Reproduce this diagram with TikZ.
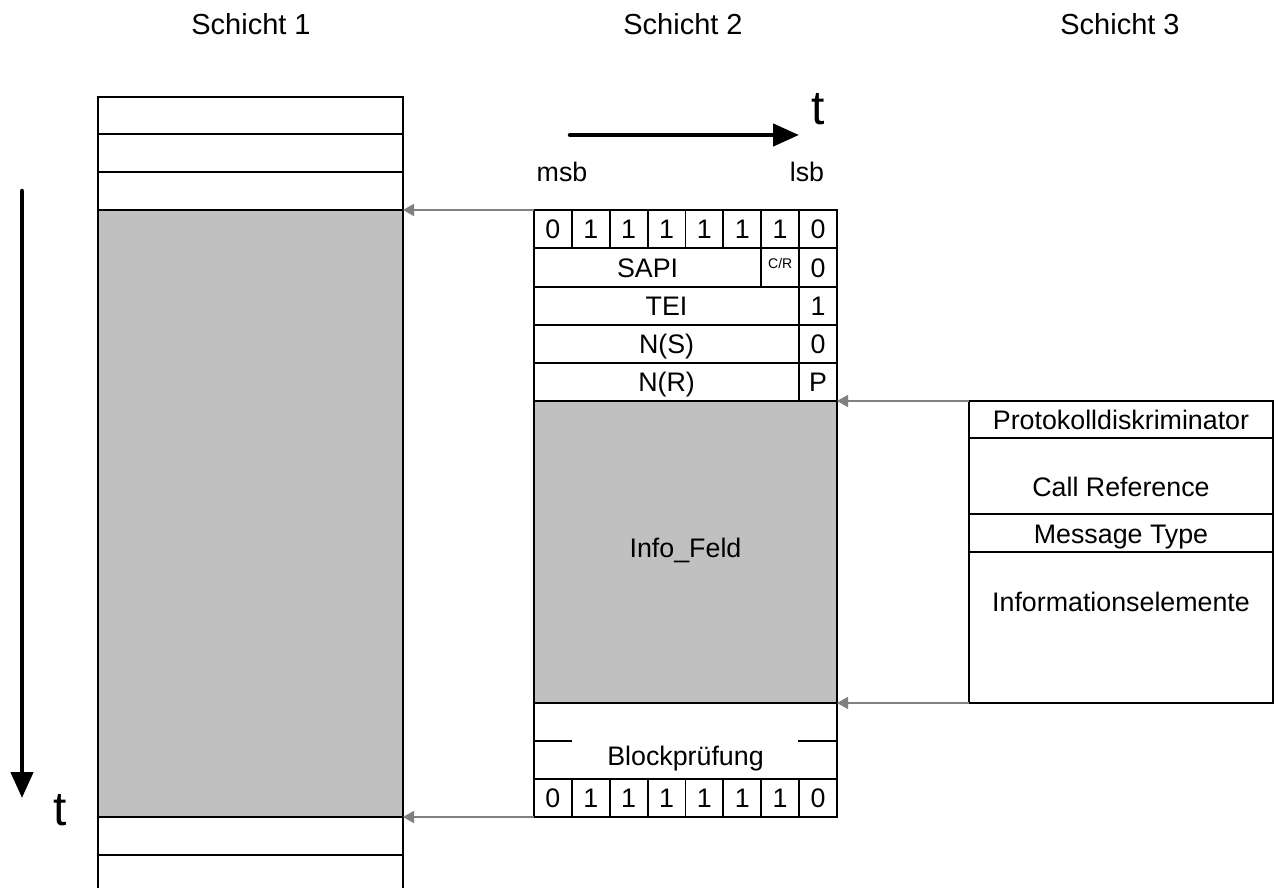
\documentclass[tikz,border=0pt]{standalone}
\usepackage{fontspec}
\setmainfont{Liberation Sans}
\usetikzlibrary{arrows.meta}
\definecolor{graybg}{RGB}{192,192,192}
\definecolor{arrowgray}{RGB}{128,128,128}
\tikzset{
  cellbox/.style={draw=black, line width=1.8pt, inner sep=0pt, outer sep=0pt, anchor=north west,
    font=\fontsize{26.8}{30}\selectfont, text height=19.2pt, text depth=0pt},
  grayarea/.style={cellbox, fill=graybg},
  txt/.style={inner sep=0pt, outer sep=0pt, font=\fontsize{26.8}{30}\selectfont, text height=19.2pt, text depth=0pt},
  headtxt/.style={inner sep=0pt, outer sep=0pt, font=\fontsize{29}{34}\selectfont, text height=20.8pt, text depth=0pt},
  bigt/.style={inner sep=0pt, outer sep=0pt, font=\fontsize{48}{56}\selectfont, anchor=base},
  smalltxt/.style={inner sep=0pt, outer sep=0pt, font=\fontsize{26.8}{30}\selectfont, anchor=base},
  feed/.style={draw=arrowgray, line width=1.5pt, -{Triangle[length=11pt,width=12pt]}},
  timearrow/.style={line width=4.5pt, line cap=round, -{Triangle[length=26pt,width=22pt]}},
  segline/.style={line width=1.8pt}
}
\begin{document}
\begin{tikzpicture}[x=1pt,y=-1pt]
\clip (0,0) rectangle (1278,888);
\useasboundingbox (0,0) rectangle (1278,888);

% headings
\node[headtxt] (h1) at (251,24) {Schicht 1};
\node[headtxt] (h2) at (683,24) {Schicht 2};
\node[headtxt] (h3) at (1120,24) {Schicht 3};

% ---------- Schicht 1 column ----------
\node[cellbox, minimum width=305pt, minimum height=37pt] (l1) at (98,97) {};
\node[cellbox, minimum width=305pt, minimum height=38pt] (l2) at (98,134) {};
\node[cellbox, minimum width=305pt, minimum height=38pt] (l3) at (98,172) {};
\node[grayarea, minimum width=305pt, minimum height=607pt] (lg) at (98,210) {};
\node[cellbox, minimum width=305pt, minimum height=38pt] (l5) at (98,817) {};
\node[cellbox, minimum width=305pt, minimum height=60pt] (l6) at (98,855) {};

% ---------- Schicht 2 frame ----------
\def\bw{37.875}
% top flag row
\foreach \v [count=\i from 0] in {0,1,1,1,1,1,1,0}{
  \node[cellbox, minimum width=\bw pt, minimum height=38pt] (b\i) at ({534+\i*\bw},210) {\v};
}
% SAPI row
\node[cellbox, minimum width=227.25pt, minimum height=39pt] (sapi) at (534,248) {SAPI};
\node[cellbox, minimum width=\bw pt, minimum height=39pt] (cr) at (761.25,248) {};
\node[inner sep=0pt, font=\fontsize{14}{16}\selectfont, anchor=base] (crt) at (780.2,268) {C/R};
\node[cellbox, minimum width=\bw pt, minimum height=39pt] (r2b) at (799.125,248) {0};
% TEI row
\node[cellbox, minimum width=265.125pt, minimum height=38pt] (tei) at (534,287) {TEI};
\node[cellbox, minimum width=\bw pt, minimum height=38pt] (r3b) at (799.125,287) {1};
% N(S) row
\node[cellbox, minimum width=265.125pt, minimum height=38pt] (ns) at (534,325) {N(S)};
\node[cellbox, minimum width=\bw pt, minimum height=38pt] (r4b) at (799.125,325) {0};
% N(R) row
\node[cellbox, minimum width=265.125pt, minimum height=38pt] (nr) at (534,363) {N(R)};
\node[cellbox, minimum width=\bw pt, minimum height=38pt] (r5b) at (799.125,363) {P};
% Info field
\node[grayarea, minimum width=303pt, minimum height=302pt] (info) at (534,401) {};
\node[txt] (infot) at (685.5,548) {Info\_Feld};
% Blockpruefung
\node[cellbox, minimum width=303pt, minimum height=76pt] (block) at (534,703) {};
\coordinate (dl1) at (534,741);
\coordinate (dl2) at (572,741);
\coordinate (dr1) at (798,741);
\coordinate (dr2) at (837,741);
\draw[segline] (dl1) -- (dl2);
\draw[segline] (dr1) -- (dr2);
\node[txt] (blockt) at (685.5,755.5) {Blockprüfung};
% bottom flag row
\foreach \v [count=\i from 0] in {0,1,1,1,1,1,1,0}{
  \node[cellbox, minimum width=\bw pt, minimum height=38pt] (c\i) at ({534+\i*\bw},779) {\v};
}

% msb / lsb and time arrow
\node[smalltxt] (msb) at (562,182) {msb};
\node[smalltxt] (lsb) at (807,182) {lsb};
\coordinate (ta1) at (570,135);
\coordinate (ta2) at (799,135);
\draw[timearrow] (ta1) -- (ta2);
\node[bigt] (tt) at (818,125) {t};

% left time arrow
\coordinate (la1) at (22,191);
\coordinate (la2) at (22,798);
\draw[timearrow] (la1) -- (la2);
\node[bigt] (lt) at (60,825) {t};

% ---------- Schicht 3 box ----------
\node[cellbox, minimum width=304pt, minimum height=37pt] (pd) at (969,401) {};
\node[cellbox, minimum width=304pt, minimum height=76pt] (cref) at (969,438) {};
\node[cellbox, minimum width=304pt, minimum height=38pt] (mt) at (969,514) {};
\node[cellbox, minimum width=304pt, minimum height=151pt] (ie) at (969,552) {};
\node[txt] (pdt) at (1121,419.5) {Protokolldiskriminator};
\node[txt] (creft) at (1121,487) {Call Reference};
\node[txt] (mtt) at (1121,533.5) {Message Type};
\node[txt] (iet) at (1121,601.5) {Informationselemente};

% ---------- gray feed arrows ----------
\draw[feed] (b0.north west) -- (lg.north east);
\draw[feed] (c0.south west) -- (lg.south east);
\draw[feed] (pd.north west) -- (info.north east);
\draw[feed] (ie.south west) -- (info.south east);
\end{tikzpicture}
\end{document}
